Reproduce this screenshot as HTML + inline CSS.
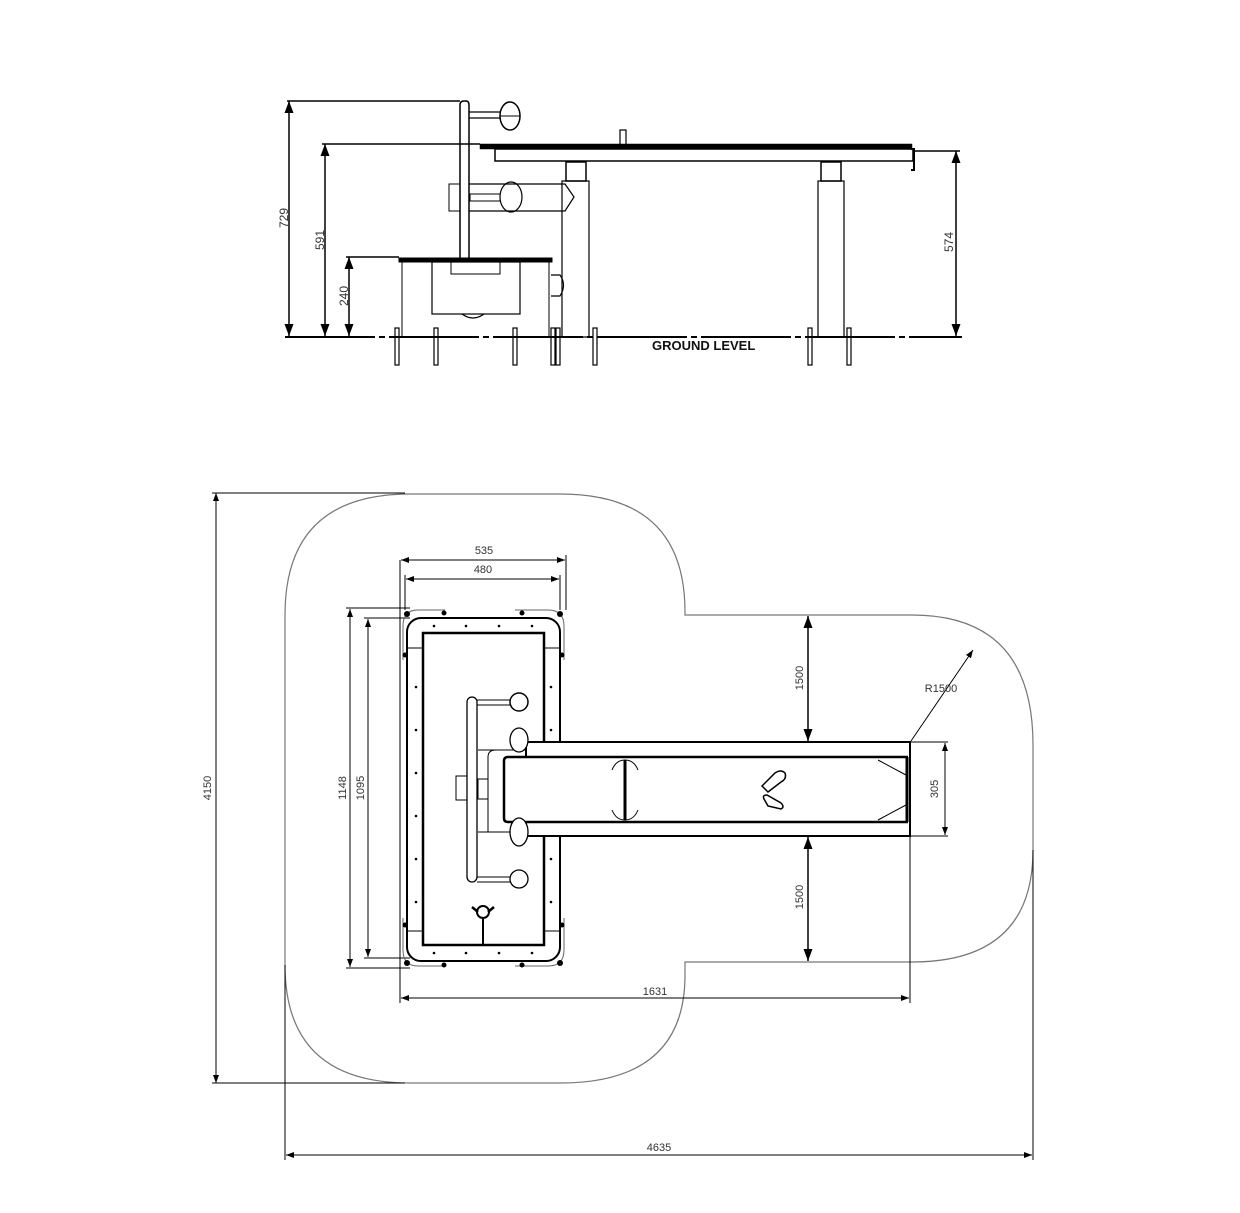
<!DOCTYPE html>
<html><head><meta charset="utf-8"><style>
html,body{margin:0;padding:0;background:#fff;}
svg{display:block;}
text{font-family:"Liberation Sans",sans-serif;fill:#333;}
</style></head><body>
<svg width="1240" height="1213" viewBox="0 0 1240 1213" xmlns="http://www.w3.org/2000/svg">
<defs>
<marker id="a" markerWidth="8" markerHeight="6" refX="8" refY="3" orient="auto"><path d="M0,0 L8,3 L0,6 z" fill="#000"/></marker>
<marker id="b" markerWidth="8" markerHeight="6" refX="0" refY="3" orient="auto"><path d="M8,0 L0,3 L8,6 z" fill="#000"/></marker>
</defs>
<g stroke="#000" fill="none">
<!-- ELEVATION -->
<!-- dims -->
<line x1="287" y1="101" x2="460" y2="101" stroke-width="1.5"/>
<line x1="289" y1="101" x2="289" y2="336" stroke-width="1.5" marker-start="url(#b)" marker-end="url(#a)"/>
<line x1="322" y1="144" x2="480" y2="144" stroke-width="1.5"/>
<line x1="325" y1="144" x2="325" y2="336" stroke-width="1.5" marker-start="url(#b)" marker-end="url(#a)"/>
<line x1="346" y1="257" x2="399" y2="257" stroke-width="1.5"/>
<line x1="349" y1="257" x2="349" y2="336" stroke-width="1.5" marker-start="url(#b)" marker-end="url(#a)"/>
<line x1="915" y1="151" x2="960" y2="151" stroke-width="1.5"/>
<line x1="956" y1="151" x2="956" y2="336" stroke-width="1.5" marker-start="url(#b)" marker-end="url(#a)"/>
<!-- ground -->
<line x1="285" y1="337" x2="962" y2="337" stroke-width="2" stroke-dasharray="90,4,6,4"/>
<!-- bolts -->
<g stroke-width="1.2">
<rect x="395" y="328" width="4" height="37"/><rect x="434" y="328" width="4" height="37"/>
<rect x="513" y="328" width="4" height="37"/><rect x="551" y="328" width="4" height="37"/>
<rect x="556" y="328" width="4" height="37"/><rect x="593" y="328" width="4" height="37"/>
<rect x="808" y="328" width="4" height="37"/><rect x="847" y="328" width="4" height="37"/>
</g>
<!-- post -->
<path d="M460,261 L460,105 Q460,101 464,101 L466,101 Q469,101 469,105 L469,261" stroke-width="1.5"/>
<!-- top handle -->
<line x1="469" y1="112" x2="500" y2="112" stroke-width="1.2"/><line x1="469" y1="118" x2="500" y2="118" stroke-width="1.2"/>
<ellipse cx="510" cy="116" rx="10" ry="14" stroke-width="1.5"/>
<line x1="500" y1="116" x2="520" y2="116" stroke-width="1"/>
<!-- middle handle -->
<rect x="449" y="184" width="11" height="27" stroke-width="1"/>
<path d="M469,184 L565,184 L574,197 L565,211 L469,211" stroke-width="1.2"/>
<rect x="470" y="194" width="30" height="7" stroke-width="1"/>
<ellipse cx="511" cy="197" rx="11" ry="15" stroke-width="1.2"/>
<!-- seat -->
<rect x="399" y="258" width="153" height="4" fill="#000" stroke-width="1"/>
<line x1="402" y1="262" x2="402" y2="337"/><line x1="549" y1="262" x2="549" y2="337"/>
<rect x="432" y="262" width="88" height="52" stroke-width="1.2"/>
<rect x="451" y="262" width="49" height="12" stroke-width="1"/>
<path d="M462,314 Q473,322 484,314" stroke-width="1.2"/>
<path d="M551,275 L560,275 Q567,285 560,296 L551,296" stroke-width="1.2"/>
<!-- table -->
<rect x="480" y="144" width="432" height="5" fill="#000" stroke-width="0.5"/>
<rect x="495" y="149" width="418" height="12" stroke-width="1.5"/>
<path d="M911,149 L914,149 L914,170 L911,170" stroke-width="2"/>
<rect x="620" y="130" width="6" height="15" stroke-width="1.2"/>
<!-- joints -->
<rect x="566" y="162" width="20" height="19" stroke-width="1.5"/>
<rect x="821" y="162" width="20" height="19" stroke-width="1.5"/>
<!-- legs -->
<rect x="562" y="181" width="27" height="156" stroke-width="1.2"/>
<rect x="818" y="181" width="26" height="156" stroke-width="1.2"/>
</g>
<text x="652" y="350" font-size="13" font-weight="bold" fill="#111" style="fill:#111">GROUND LEVEL</text>
<text transform="translate(288,218) rotate(-90)" font-size="12" text-anchor="middle">729</text>
<text transform="translate(324,240) rotate(-90)" font-size="12" text-anchor="middle">591</text>
<text transform="translate(348,296) rotate(-90)" font-size="12" text-anchor="middle">240</text>
<text transform="translate(953,242) rotate(-90)" font-size="12" text-anchor="middle">574</text>

<!-- PLAN -->
<g stroke="#000" fill="none">
<path d="M410,494 L560,494 Q685,494 685,612 L685,615 L912,615 Q1033,615 1033,745 L1033,850 Q1033,962 912,962 L685,962 L685,975 Q685,1083 560,1083 L410,1083 Q285,1083 285,965 L285,615 Q285,494 410,494 Z" stroke="#777" stroke-width="1.2"/>
<!-- dims -->
<g stroke-width="1">
<line x1="212" y1="493" x2="405" y2="493"/><line x1="212" y1="1083" x2="405" y2="1083"/>
<line x1="216" y1="493" x2="216" y2="1083" marker-start="url(#b)" marker-end="url(#a)"/>
<line x1="285" y1="965" x2="285" y2="1160"/><line x1="1033" y1="850" x2="1033" y2="1160"/>
<line x1="286" y1="1155" x2="1032" y2="1155" marker-start="url(#b)" marker-end="url(#a)"/>
<line x1="400" y1="560" x2="400" y2="1003"/><line x1="910" y1="836" x2="910" y2="1003"/>
<line x1="401" y1="998" x2="909" y2="998" marker-start="url(#b)" marker-end="url(#a)"/>
<line x1="566" y1="555" x2="566" y2="610"/><line x1="405" y1="575" x2="405" y2="610"/><line x1="560" y1="575" x2="560" y2="610"/>
<line x1="401" y1="560" x2="565" y2="560" marker-start="url(#b)" marker-end="url(#a)"/>
<line x1="406" y1="579" x2="559" y2="579" marker-start="url(#b)" marker-end="url(#a)"/>
<line x1="346" y1="608" x2="410" y2="608"/><line x1="346" y1="968" x2="410" y2="968"/>
<line x1="350" y1="609" x2="350" y2="967" marker-start="url(#b)" marker-end="url(#a)"/>
<line x1="364" y1="618" x2="410" y2="618"/><line x1="364" y1="958" x2="410" y2="958"/>
<line x1="368" y1="619" x2="368" y2="957" marker-start="url(#b)" marker-end="url(#a)"/>
<line x1="808" y1="616" x2="808" y2="741" stroke-width="1.5" marker-start="url(#b)" marker-end="url(#a)"/>
<line x1="808" y1="837" x2="808" y2="961" stroke-width="1.5" marker-start="url(#b)" marker-end="url(#a)"/>
<line x1="910" y1="742" x2="948" y2="742"/><line x1="910" y1="836" x2="948" y2="836"/>
<line x1="945" y1="743" x2="945" y2="835" marker-start="url(#b)" marker-end="url(#a)"/>
<line x1="911" y1="741" x2="973" y2="650" marker-end="url(#a)"/>
</g>
<!-- frame -->
<rect x="407" y="618" width="153" height="343" rx="14" stroke-width="2"/>
<rect x="423" y="633" width="121" height="312" stroke-width="2.5"/>
<line x1="407" y1="648" x2="423" y2="648"/><line x1="544" y1="648" x2="560" y2="648"/>
<line x1="407" y1="931" x2="423" y2="931"/><line x1="544" y1="931" x2="560" y2="931"/>
<g stroke="#666">
<path d="M403,626 Q403,610 418,610 L445,610"/><path d="M515,610 L548,610 Q564,610 564,626 L564,660"/>
<path d="M403,626 L403,660"/>
<path d="M403,950 Q403,966 418,966 L445,966"/><path d="M515,966 L548,966 Q564,966 564,950 L564,918"/>
<path d="M403,950 L403,918"/>
</g>
<g fill="#000" stroke="none">
<circle cx="407" cy="614" r="3"/><circle cx="560" cy="614" r="3"/><circle cx="407" cy="963" r="3"/><circle cx="560" cy="963" r="3"/>
<circle cx="444" cy="613" r="2.5"/><circle cx="522" cy="613" r="2.5"/><circle cx="444" cy="965" r="2.5"/><circle cx="522" cy="965" r="2.5"/>
<circle cx="405" cy="655" r="2.5"/><circle cx="562" cy="655" r="2.5"/><circle cx="405" cy="925" r="2.5"/><circle cx="562" cy="925" r="2.5"/>
<circle cx="434" cy="626" r="1.3"/><circle cx="466" cy="626" r="1.3"/><circle cx="499" cy="626" r="1.3"/><circle cx="532" cy="626" r="1.3"/>
<circle cx="434" cy="953" r="1.3"/><circle cx="466" cy="953" r="1.3"/><circle cx="499" cy="953" r="1.3"/><circle cx="532" cy="953" r="1.3"/>
<circle cx="416" cy="687" r="1.3"/><circle cx="416" cy="730" r="1.3"/><circle cx="416" cy="773" r="1.3"/><circle cx="416" cy="816" r="1.3"/><circle cx="416" cy="859" r="1.3"/><circle cx="416" cy="902" r="1.3"/>
<circle cx="551" cy="687" r="1.3"/><circle cx="551" cy="730" r="1.3"/><circle cx="551" cy="859" r="1.3"/><circle cx="551" cy="902" r="1.3"/>
<circle cx="565" cy="750" r="1.3"/><circle cx="610" cy="750" r="1.3"/><circle cx="658" cy="750" r="1.3"/><circle cx="706" cy="750" r="1.3"/><circle cx="754" cy="750" r="1.3"/><circle cx="802" cy="750" r="1.3"/><circle cx="852" cy="750" r="1.3"/><circle cx="900" cy="750" r="1.3"/>
<circle cx="565" cy="828" r="1.3"/><circle cx="610" cy="828" r="1.3"/><circle cx="658" cy="828" r="1.3"/><circle cx="706" cy="828" r="1.3"/><circle cx="754" cy="828" r="1.3"/><circle cx="802" cy="828" r="1.3"/><circle cx="852" cy="828" r="1.3"/><circle cx="900" cy="828" r="1.3"/>
</g>
<!-- beam -->
<rect x="526" y="742" width="384" height="94" fill="#fff" stroke-width="2"/>
<path d="M908,757 L508,757 Q504,757 504,761 L504,818 Q504,822 508,822 L908,822" fill="#fff" stroke-width="2.5"/>
<line x1="907" y1="757" x2="907" y2="822" stroke-width="3"/>
<line x1="878" y1="760" x2="906" y2="775"/><line x1="878" y1="820" x2="906" y2="805"/>
<path d="M488,832 L488,757 Q488,750 496,750 L526,750" stroke-width="1"/>
<line x1="478" y1="750" x2="526" y2="750"/><line x1="478" y1="832" x2="526" y2="832"/>
<rect x="456" y="776" width="11" height="24" stroke-width="1"/><rect x="478" y="779" width="10" height="20" stroke-width="1"/>
<!-- middle bench element -->
<line x1="625" y1="760" x2="625" y2="820" stroke-width="3"/>
<path d="M612,770 Q616,760 625,760 Q634,760 638,770"/><path d="M612,810 Q616,820 625,820 Q634,820 638,810"/>
<!-- foot marks -->
<path d="M762,786 L775,773 Q781,769 785,773 Q787,779 781,782 L768,792 Z" stroke-width="1.5"/>
<path d="M764,799 Q762,795 767,795 L781,803 Q785,807 781,809 L768,806 Z" stroke-width="1.5"/>
<!-- handle bar -->
<rect x="467" y="697" width="10" height="185" rx="5" fill="#fff" stroke-width="1.3"/>
<line x1="477" y1="700" x2="510" y2="700"/><line x1="477" y1="705" x2="510" y2="705"/>
<line x1="477" y1="877" x2="510" y2="877"/><line x1="477" y1="882" x2="510" y2="882"/>
<circle cx="519" cy="702" r="9" fill="#fff" stroke-width="1.5"/>
<circle cx="519" cy="879" r="9" fill="#fff" stroke-width="1.3"/>
<ellipse cx="519" cy="740" rx="9" ry="12" fill="#fff" stroke-width="1.3"/>
<ellipse cx="519" cy="832" rx="9" ry="14" fill="#fff" stroke-width="1.3"/>
<!-- lock -->
<circle cx="483" cy="912" r="6" stroke-width="2"/><path d="M472,907 L478,912 M494,907 L488,912" stroke-width="2.5"/>
<line x1="483" y1="918" x2="483" y2="945" stroke-width="2"/>
</g>
<text x="484" y="554" font-size="11" text-anchor="middle">535</text>
<text x="483" y="573" font-size="11" text-anchor="middle">480</text>
<text x="655" y="995" font-size="11" text-anchor="middle">1631</text>
<text x="659" y="1151" font-size="11" text-anchor="middle">4635</text>
<text x="941" y="692" font-size="11" text-anchor="middle">R1500</text>
<text transform="translate(211,788) rotate(-90)" font-size="11" text-anchor="middle">4150</text>
<text transform="translate(346,788) rotate(-90)" font-size="11" text-anchor="middle">1148</text>
<text transform="translate(364,788) rotate(-90)" font-size="11" text-anchor="middle">1095</text>
<text transform="translate(803,678) rotate(-90)" font-size="11" text-anchor="middle">1500</text>
<text transform="translate(803,897) rotate(-90)" font-size="11" text-anchor="middle">1500</text>
<text transform="translate(938,789) rotate(-90)" font-size="11" text-anchor="middle">305</text>
</svg>
</body></html>
